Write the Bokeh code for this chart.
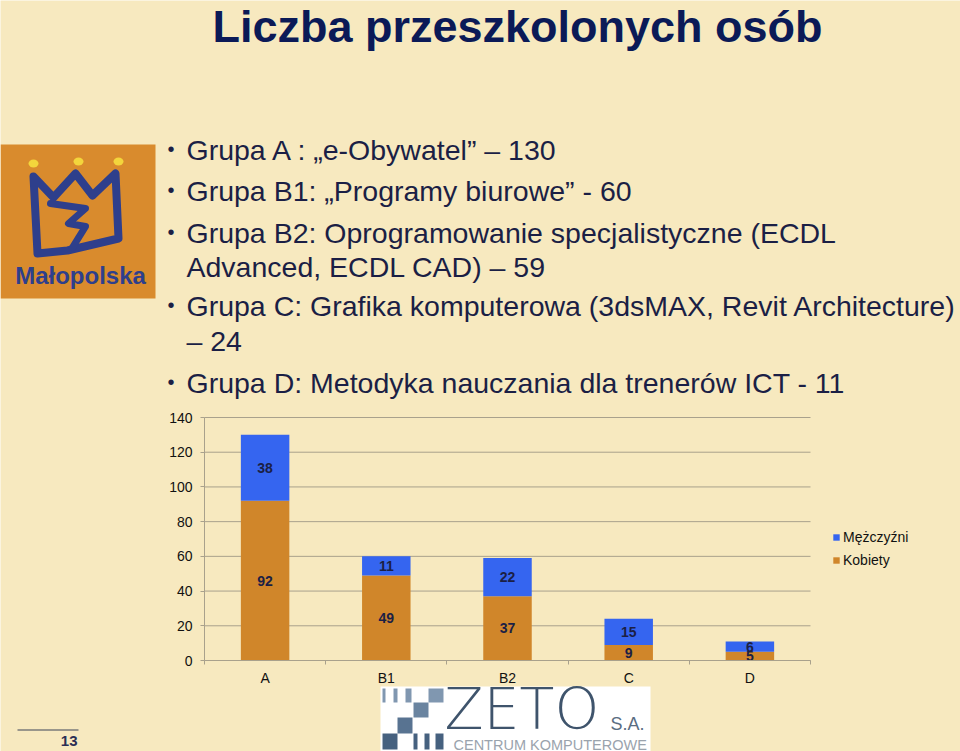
from bokeh.plotting import figure
from bokeh.models import (Range1d, FixedTicker, LinearAxis, Legend, LegendItem,
                          ColumnDataSource)
from bokeh.core.properties import value
from bokeh.embed import file_html
from bokeh.resources import INLINE

# ---------------- data ----------------
categories = ["A", "B1", "B2", "C", "D"]
kobiety = [92, 49, 37, 9, 5]
mezczyzni = [38, 11, 22, 15, 6]
y_ticks = [0, 20, 40, 60, 80, 100, 120, 140]
series_names = ["Mężczyźni", "Kobiety"]

title_text = "Liczba przeszkolonych osób"
bullet_lines = [
    ("Grupa A : „e-Obywatel” – 130", True),
    ("Grupa B1: „Programy biurowe” - 60", True),
    ("Grupa B2: Oprogramowanie specjalistyczne (ECDL", True),
    ("Advanced, ECDL CAD) – 59", False),
    ("Grupa C: Grafika komputerowa (3dsMAX, Revit Architecture)", True),
    ("– 24", False),
    ("Grupa D: Metodyka nauczania dla trenerów ICT - 11", True),
]
slide_number = "13"

# ---------------- style ----------------
BG = "#F7E9BF"
BLUE = "#3565F0"
ORANGE = "#D0862A"
GRID = "#A9A18C"
NAVY = "#0B1A57"
TXT = "#1B1F45"
FONT = "Liberation Sans"
W, H = 960, 751

# whole slide canvas: data coordinates = page pixels (y downwards)
p = figure(width=W, height=H, x_range=Range1d(0, W), y_range=Range1d(H, 0),
           x_axis_type=None, y_axis_type=None,
           output_backend="svg", toolbar_location=None,
           min_border=0, min_border_left=0, min_border_right=0,
           min_border_top=0, min_border_bottom=0,
           background_fill_color=BG, border_fill_color=BG,
           outline_line_color=None)
p.grid.visible = False

# chart ranges: category units (0..n) span page x 204..810, value 0..140 spans page y 660..417
n = len(categories)
PX_LEFT, PX_PER_CAT = 204.0, 121.2
PY_ZERO, PX_PER_VAL = 660.0, (660.0 - 417.0) / 140.0
p.extra_x_ranges = {"cx": Range1d(-PX_LEFT / PX_PER_CAT, (W - PX_LEFT) / PX_PER_CAT)}
p.extra_y_ranges = {"cy": Range1d((PY_ZERO - H) / PX_PER_VAL, PY_ZERO / PX_PER_VAL)}

# ---------------- gridlines (from the y ticks) ----------------
p.segment(x0=[0] * len(y_ticks), x1=[n] * len(y_ticks), y0=y_ticks, y1=y_ticks,
          line_color=GRID, line_width=1, x_range_name="cx", y_range_name="cy")

# ---------------- bars ----------------
centers = [i + 0.5 for i in range(n)]
src = ColumnDataSource(dict(x=centers, Kobiety=kobiety, Mezczyzni=mezczyzni,
                            y_k=[k / 2 for k in kobiety],
                            y_m=[k + m / 2 for k, m in zip(kobiety, mezczyzni)],
                            t_k=[str(k) for k in kobiety],
                            t_m=[str(m) for m in mezczyzni]))
r_k, r_m = p.vbar_stack(["Kobiety", "Mezczyzni"], x="x", width=0.4,
                        color=[ORANGE, BLUE], line_color=None, source=src,
                        x_range_name="cx", y_range_name="cy")

for col, txt in (("y_k", "t_k"), ("y_m", "t_m")):
    p.text(x="x", y=col, text=txt, source=src, text_align="center",
           text_baseline="middle", text_font=value(FONT), text_font_style="bold",
           text_font_size="14px", text_color=TXT,
           x_range_name="cx", y_range_name="cy")

# ---------------- axes ----------------
yax = LinearAxis(x_range_name="cx", y_range_name="cy", fixed_location=0,
                 bounds=(y_ticks[0], y_ticks[-1]), ticker=FixedTicker(ticks=y_ticks),
                 axis_line_color=GRID, major_tick_line_color=GRID,
                 major_tick_out=4, major_tick_in=0, minor_tick_line_color=None,
                 major_label_standoff=8, major_label_text_font=FONT,
                 major_label_text_font_size="14px", major_label_text_color="#111111")
p.add_layout(yax, "left")

xax = LinearAxis(x_range_name="cx", y_range_name="cy", fixed_location=0,
                 bounds=(0, n),
                 ticker=FixedTicker(ticks=centers, minor_ticks=list(range(n + 1))),
                 major_label_overrides={c: lab for c, lab in zip(centers, categories)},
                 axis_line_color=GRID, major_tick_line_color=None,
                 major_tick_out=0, major_tick_in=0,
                 minor_tick_line_color=GRID, minor_tick_out=4, minor_tick_in=0,
                 major_label_standoff=5, major_label_text_font=FONT,
                 major_label_text_font_size="14px", major_label_text_color="#111111")
p.add_layout(xax, "below")

legend = Legend(items=[LegendItem(label=series_names[0], renderers=[r_m]),
                       LegendItem(label=series_names[1], renderers=[r_k])],
                location=(832, H - 570), padding=0, margin=0, spacing=3,
                glyph_width=8, glyph_height=8, label_height=20, label_standoff=3,
                label_text_font=FONT, label_text_font_size="14px",
                label_text_color="#111111", border_line_color=None,
                background_fill_alpha=0)
p.add_layout(legend)

# ---------------- slide text (y = visual centre of the line) ----------------
p.text(x=[517], y=[26], text=[title_text], text_align="center",
       text_baseline="middle", text_font=value(FONT), text_font_style="bold",
       text_font_size="45px", text_color=NAVY)

centres = [149, 190, 232, 266, 305, 340, 382]
p.text(x=[186] * len(bullet_lines), y=centres, text=[t for t, _ in bullet_lines],
       text_align="left", text_baseline="middle", text_font=value(FONT),
       text_font_size="28.5px", text_color=TXT)
bul_y = [c - 1 for (t, bl), c in zip(bullet_lines, centres) if bl]
p.text(x=[167] * len(bul_y), y=bul_y, text=["•"] * len(bul_y),
       text_align="left", text_baseline="middle", text_font=value(FONT),
       text_font_size="20px", text_color=TXT)

# slide number
p.line(x=[17, 78], y=[729.5, 729.5], line_color="#7A7A7A", line_width=1.5)
p.text(x=[77], y=[740], text=[slide_number], text_align="right",
       text_baseline="middle", text_font=value(FONT), text_font_style="bold",
       text_font_size="15px", text_color="#2B2F55")

# ---------------- Malopolska logo ----------------
CROWN = "#2E3F8C"
p.quad(left=[0], right=[155], top=[144], bottom=[298], fill_color="#D98B2D", line_color=None)
outer = [(33, 176), (53, 197), (75, 173), (92, 195), (115, 173), (118, 238), (67, 250), (37, 253)]
p.patch(x=[a for a, _ in outer], y=[b for _, b in outer], fill_alpha=0,
        line_color=CROWN, line_width=8, line_join="round")
inner = [(50, 203), (85, 208), (68, 223), (85, 226), (72, 247)]
p.line(x=[a for a, _ in inner], y=[b for _, b in inner], line_color=CROWN,
       line_width=7, line_join="round", line_cap="round")
p.ellipse(x=[33, 78, 118], y=[163, 161, 161], width=10, height=8,
          fill_color="#F3D53C", line_color=None)
p.text(x=[80], y=[275], text=["Małopolska"], text_align="center",
       text_baseline="middle", text_font=value(FONT), text_font_style="bold",
       text_font_size="24px", text_color=CROWN)

# ---------------- ZETO logo ----------------
p.quad(left=[380], right=[650], top=[686], bottom=[760], fill_color="#FFFFFF", line_color=None)
squares = [
    (382, 385, 688, 702, "#8097B0"), (393, 397, 688, 702, "#8097B0"),
    (405, 411, 688, 702, "#8097B0"), (428, 443, 688, 702, "#8097B0"),
    (413, 428, 702, 717, "#6A84A0"),
    (397, 412, 717, 733, "#587391"),
    (382, 397, 733, 749, "#46617F"), (413, 417, 733, 749, "#46617F"),
    (424, 429, 733, 749, "#46617F"), (435, 443, 733, 749, "#46617F"),
]
p.quad(left=[s[0] for s in squares], right=[s[1] for s in squares],
       top=[s[2] for s in squares], bottom=[s[3] for s in squares],
       fill_color=[s[4] for s in squares], line_color=None)
p.text(x=[444], y=[708], text=["ZETO"], text_align="left", text_baseline="middle",
       text_font=value("'DejaVu Sans Light', 'Liberation Sans'"), text_font_size="57px",
       text_color="#3F546C")
p.text(x=[610], y=[723], text=["S.A."], text_align="left", text_baseline="middle",
       text_font=value(FONT), text_font_size="18px", text_color="#5A6D82")
p.text(x=[453], y=[744], text=["CENTRUM KOMPUTEROWE"], text_align="left",
       text_baseline="middle", text_font=value(FONT), text_font_size="14.5px",
       text_color="#9AA3AD")

open("out.html", "w").write(file_html(p, INLINE))
